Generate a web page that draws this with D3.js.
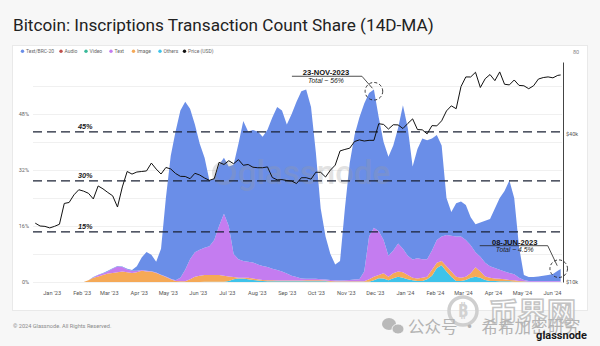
<!DOCTYPE html>
<html><head><meta charset="utf-8">
<script src="https://cdn.jsdelivr.net/npm/d3@7"></script>
<style>
html,body{margin:0;padding:0;background:#f7f7f7;}
svg{display:block;}
</style></head><body>
<svg id="c" width="600" height="346"></svg>
<script>
// ---------------- DATA ----------------
const dates = [
"2022-12-15","2022-12-20","2022-12-25","2022-12-30","2023-01-04","2023-01-09","2023-01-14","2023-01-19","2023-01-24","2023-01-29",
"2023-02-03","2023-02-08","2023-02-13","2023-02-18","2023-02-23","2023-02-28","2023-03-05","2023-03-10","2023-03-15","2023-03-20",
"2023-03-25","2023-03-30","2023-04-04","2023-04-09","2023-04-14","2023-04-19","2023-04-24","2023-04-29","2023-05-04","2023-05-09",
"2023-05-14","2023-05-19","2023-05-24","2023-05-29","2023-06-03","2023-06-08","2023-06-13","2023-06-18","2023-06-23","2023-06-28",
"2023-07-03","2023-07-08","2023-07-13","2023-07-18","2023-07-23","2023-07-28","2023-08-02","2023-08-07","2023-08-12","2023-08-17",
"2023-08-22","2023-08-27","2023-09-01","2023-09-06","2023-09-11","2023-09-16","2023-09-21","2023-09-26","2023-10-01","2023-10-06",
"2023-10-11","2023-10-16","2023-10-21","2023-10-26","2023-10-31","2023-11-05","2023-11-10","2023-11-15","2023-11-20","2023-11-25",
"2023-11-30","2023-12-05","2023-12-10","2023-12-15","2023-12-20","2023-12-25","2023-12-30","2024-01-04","2024-01-09","2024-01-14",
"2024-01-19","2024-01-24","2024-01-29","2024-02-03","2024-02-08","2024-02-13","2024-02-18","2024-02-23","2024-02-28","2024-03-04",
"2024-03-09","2024-03-14","2024-03-19","2024-03-24","2024-03-29","2024-04-03","2024-04-08","2024-04-13","2024-04-18","2024-04-23",
"2024-04-28","2024-05-03","2024-05-08","2024-05-13","2024-05-18","2024-05-23","2024-05-28","2024-06-02","2024-06-07","2024-06-10"];

// share of transaction count, % (14D-MA)
const brc20 = [
0,0,0,0,0,0,0,0,0,0,
0,0,0.1,0.1,0.2,0.2,0.1,0.2,0.1,0.2,
0.2,1.3,3.6,5.4,4.7,3.1,7.4,22.4,35.1,42.5,
47.8,48.0,43.0,36.5,30.3,25.7,18.8,17.5,17.5,16.0,
17.0,25.5,33.0,40.0,37.2,37.8,38.0,36.9,39.2,43.2,
46.6,46.0,42.6,46.2,50.1,53.5,54.1,49.1,36.1,20.2,
12.3,7.4,4.5,5.6,20.5,33.4,41.3,46.2,48.0,41.0,
39.5,32.5,28.0,28.3,30.0,33.0,41.0,36.5,26.6,31.2,
34.5,34.0,32.0,30.0,26.0,10.6,6.8,9.5,10.0,10.0,
8.0,8.0,9.8,12.0,13.5,17.0,20.5,23.0,26.4,21.8,
8.8,1.4,1.1,1.1,1.3,1.5,1.7,2.0,2.9,3.4];
const audio = [
0,0,0,0,0,0,0,0,0,0, 0,0,0,0,0,0,0,0,0,0, 0,0,0,0,0,0,0,0,0,0, 0,0,0,0,0,0,0,0,0,0,
0,0,0,0,0,0,0,0,0,0, 0,0,0,0,0,0,0,0,0,0, 0,0,0,0,0,0,0,0,0,0, 0,0,0,0,0,0,0,0,0,0,
0,0,0,0,0,0,0,0,0,0, 0,0,0,0,0,0,0,0,0,0, 0,0,0,0,0,0,0,0,0,0];
const video = [
0,0,0,0,0,0,0,0,0,0, 0,0,0,0,0,0,0,0,0,0, 0,0,0,0,0,0,0,0,0,0, 0,0,0,0,0,0,0,0,0,0,
0,0,0,0,0,0,0,0,0,0, 0,0,0,0,0,0,0,0,0,0, 0,0,0,0,0,0,0,0,0,0, 0,0,0,0,0,0,0,0,0,0,
0,0,0,0,0,0,0,0,0,0, 0,0,0,0,0,0,0,0,0,0, 0,0,0,0,0,0,0,0,0,0];
const text = [
0,0,0,0,0,0,0,0,0,0,
0,0,0.1,0.4,0.4,0.6,1.2,1.6,1.3,0.8,
0.6,0.4,0.2,0.2,0.1,0.1,0.1,0.2,0.1,0.2,
1.0,3.3,5.7,7.0,7.4,7.8,8.2,10.0,14.0,17.7,
14.4,6.6,5.3,4.8,4.6,4.6,4.2,4.0,3.8,3.3,
3.0,2.6,2.0,1.4,1.0,0.6,0.4,0.4,0.4,0.3,
0.3,0.3,0.3,0.2,0.3,0.4,0.5,0.6,2.8,12.2,
14.0,12.5,9.5,6.0,6.5,8.0,6.7,5.5,5.2,5.8,
5.3,5.0,5.5,6.5,7.0,8.9,10.2,11.5,11.8,10.5,
8.0,4.3,4.2,3.9,3.3,3.0,2.6,2.2,2.0,1.7,
0.9,0.4,0.2,0.2,0.2,0.2,0.2,0.2,0.2,0.2];
const image = [
0,0,0,0,0,0,0,0,0,0,
0,0.5,1.2,1.6,2.0,2.4,2.6,2.8,3.0,2.8,
2.6,2.8,3.2,3.0,3.0,2.6,2.0,1.4,0.8,0.3,
0.2,0.2,0.8,1.5,1.8,1.9,1.9,1.9,1.9,1.7,
1.3,0.6,0.2,0.2,0.4,0.4,0.4,0.3,0.3,0.3,
0.2,0.2,0.2,0.2,0.2,0.2,0.3,0.3,0.3,0.3,
0.2,0.2,0.1,0.1,0.1,0.1,0.1,0.1,0.1,0.7,
1.0,0.9,1.5,1.0,1.4,1.5,1.6,1.2,0.7,0.7,
0.9,0.7,1.7,1.5,1.2,1.5,1.5,1.2,0.9,0.9,
1.3,2.7,1.8,1.0,0.9,0.7,0.7,0.6,0.4,0.4,
0.2,0.15,0.05,0.05,0.05,0.05,0.05,0.05,0.05,0.05];
const others = [
0,0,0,0,0,0,0,0,0,0,
0,0,0,0,0,0,0,0,0,0,
0,0,0,0,0,0,0,0,0,0,
0,0,0,0,0,0.1,0.1,0.1,0.1,0.1,
0.3,0.8,1.0,1.0,0.8,0.6,0.4,0.3,0.2,0.2,
0.2,0.2,0.2,0.2,0.2,0.2,0.2,0.2,0.2,0.2,
0.2,0.1,0.1,0.1,0.1,0.1,0.1,0.1,0.1,0.1,
0.5,1.1,1.0,0.5,1.1,1.5,1.2,0.8,0.5,0.3,
0.3,0.8,1.8,4.0,4.8,3.0,1.5,0.3,0.3,0.6,
1.2,1.5,1.2,0.6,0.3,0.3,0.2,0.2,0.2,0.1,
0.1,0.05,0.05,0.05,0.05,0.05,0.05,0.05,0.05,0.05];
// BTC price, USD
const price = [
17360,16900,16840,16600,16850,17180,20880,21070,22630,23740,
23430,22960,21780,24600,23940,23140,22430,20190,24370,28170,
27490,28030,28170,28320,30480,28820,27510,29250,28850,27660,
26920,26880,26330,27700,27250,26500,25930,26340,30690,30080,
31160,30290,31480,29860,30080,29320,29180,29180,29410,26630,
26050,26100,25870,25760,25160,26570,26580,26220,27980,27950,
26750,28520,29900,34160,34640,35050,37310,37880,37480,37720,
37720,44080,43780,41930,43660,43580,42140,44180,46120,41730,
41620,40080,43300,43190,45300,49700,52120,50730,62440,68330,
68310,71400,61900,67210,69890,66000,71630,63800,63430,66400,
63120,62900,61190,62900,67000,67930,68360,67760,69350,69600];

const xTickDates = ["2023-01-01","2023-02-01","2023-03-01","2023-04-01","2023-05-01","2023-06-01","2023-07-01","2023-08-01","2023-09-01",
"2023-10-01","2023-11-01","2023-12-01","2024-01-01","2024-02-01","2024-03-01","2024-04-01","2024-05-01","2024-06-01"];
const yTicks = [0,16,32,48];
const yGrid = [0,8,16,24,32,40,48,56];
const priceTicks = [10000,40000];
const refLabels = ["15%","30%","45%"];
const refValues = [14.3,28.9,42.9];
const annDates = ["2023-11-30","2024-06-08"];
const annValues = [54.5,3.8];
const annTitles = ["23-NOV-2023","08-JUN-2023"];
const annTotals = ["Total ~ 56%","Total ~ 4.5%"];
const legendNames = ["Text/BRC-20","Audio","Video","Text","Image","Others","Price (USD)"];
const legendColors = ["#6a8ee8","#c0504d","#39b99a","#c47cf0","#f5a957","#3ec3ea","#111111"];

// ---------------- CHART ----------------
const W=600,H=346;
const svg=d3.select('#c');
const FONT='Roboto, "Noto Sans", "DejaVu Sans", sans-serif';
svg.append('rect').attr('width',W).attr('height',H).attr('fill','#f7f7f7');
svg.append('rect').attr('x',12.5).attr('y',45.5).attr('width',575).attr('height',265)
  .attr('fill','#fff').attr('stroke','#e9e9e9');

const title=svg.append('text').attr('x',13).attr('y',31).attr('font-family',FONT)
  .attr('font-size',17).attr('fill','#222').text('Bitcoin: Inscriptions Transaction Count Share (14D-MA)');
const tw=title.node().getComputedTextLength();
if(tw>0) title.attr('font-size',17*421/tw);

const parse=d3.utcParse('%Y-%m-%d');
const x=d3.scaleUtc().domain([parse('2022-12-15'),parse('2024-06-12')]).range([35.25,562.6]);
const y=d3.scaleLinear().domain([0,62.86]).range([282,62]);
const yp=d3.scaleLog().domain([10000,78600]).range([282,62]);

// grid
svg.append('g').selectAll('line').data(yGrid).join('line')
  .attr('x1',33).attr('x2',562).attr('y1',d=>y(d)+0.5).attr('y2',d=>y(d)+0.5)
  .attr('stroke','#f0f0f0').attr('stroke-width',1);

// left labels
svg.append('g').selectAll('text').data(yTicks).join('text')
  .attr('x',29).attr('y',d=>y(d)).attr('dy','0.35em').attr('text-anchor','end')
  .attr('font-family',FONT).attr('font-size',5.5).attr('fill','#666').text(d=>d+'%');

// stacked areas
const keys=['Others','Video','Audio','Image','Text','Text/BRC-20'];
const colors={'Others':'#3ec3ea','Video':'#39b99a','Audio':'#c0504d','Image':'#f5a957','Text':'#c47cf0','Text/BRC-20':'#6a8ee8'};
const table=dates.map((d,i)=>({date:parse(d),'Others':others[i],'Video':video[i],'Audio':audio[i],'Image':image[i],'Text':text[i],'Text/BRC-20':brc20[i]}));
const stacked=d3.stack().keys(keys)(table);
const area=d3.area().x(d=>x(d.data.date)).y0(d=>y(d[0])).y1(d=>y(d[1]));
svg.append('g').selectAll('path').data(stacked).join('path')
  .attr('d',area).attr('fill',d=>colors[d.key]);

// watermark
const wm=svg.append('g').attr('opacity',0.28);
wm.append('circle').attr('cx',224).attr('cy',173).attr('r',10).attr('fill','none').attr('stroke','#9a9a9a').attr('stroke-width',4);
wm.append('text').attr('x',238).attr('y',184).attr('font-family',FONT).attr('font-weight',500)
  .attr('font-size',33).attr('fill','#9a9a9a').text('glassnode');

// reference dashed lines
svg.append('g').selectAll('line').data(refValues).join('line')
  .attr('x1',33).attr('x2',562).attr('y1',d=>y(d)).attr('y2',d=>y(d))
  .attr('stroke','#1b2235').attr('stroke-width',1.3).attr('stroke-dasharray','9,5');
svg.append('g').selectAll('text').data(refValues).join('text')
  .attr('x',78).attr('y',d=>y(d)-3.2).attr('font-family','"Liberation Sans", Arial, sans-serif')
  .attr('font-weight','bold').attr('font-style','italic').attr('font-size',7.3).attr('fill','#222')
  .text((d,i)=>refLabels[i]);

// price line
const line=d3.line().x((d,i)=>x(parse(dates[i]))).y(d=>yp(d));
svg.append('path').datum(price).attr('d',line).attr('fill','none')
  .attr('stroke','#111').attr('stroke-width',1).attr('stroke-linejoin','round');

// right axis
const ra=svg.append('g').attr('transform','translate(563,0)')
  .call(d3.axisRight(yp).tickValues(priceTicks).tickFormat(d=>'$'+(d/1000)+'k').tickSize(0).tickPadding(3));
ra.select('.domain').attr('stroke','#444').attr('stroke-width',1);
ra.selectAll('text').attr('font-family',FONT).attr('font-size',5.5).attr('fill','#555');
svg.append('text').attr('x',573).attr('y',54).attr('font-family',FONT).attr('font-size',5.5).attr('fill','#888').text('80');

// x axis
const xa=svg.append('g').attr('transform','translate(0,288)')
  .call(d3.axisBottom(x).tickValues(xTickDates.map(parse)).tickFormat(d3.utcFormat("%b '%y")).tickSize(0).tickPadding(3));
xa.select('.domain').remove();
xa.selectAll('text').attr('font-family',FONT).attr('font-size',5.6).attr('fill','#555');

// legend
const lg=svg.append('g');
const lx=[22.5,61,86,111,133.5,160,184.5];
legendNames.forEach((n,i)=>{
  lg.append('circle').attr('cx',lx[i]).attr('cy',51.3).attr('r',1.7).attr('fill',legendColors[i]);
  lg.append('text').attr('x',lx[i]+3.5).attr('y',51.3).attr('dy','0.35em').attr('font-family',FONT)
    .attr('font-size',5).attr('fill','#666').text(n);
});

// annotations
const annCfg=[{tx:-48,ty:-16,lx0:-82,lx1:-12},{tx:-44,ty:-24,lx0:-79,lx1:-11}];
annDates.forEach((dd,i)=>{
  const ax=x(parse(dd)), ay=y(annValues[i]);
  const c=annCfg[i];
  const g=svg.append('g');
  g.append('circle').attr('cx',ax).attr('cy',ay).attr('r',8.8).attr('fill','none')
    .attr('stroke','#222').attr('stroke-width',0.9).attr('stroke-dasharray','3,2.2');
  g.append('polyline').attr('points',[[ax+c.lx0,ay+c.ty+1],[ax+c.lx1,ay+c.ty+1],[ax-1.5,ay-3]].map(p=>p.join(',')).join(' '))
    .attr('fill','none').attr('stroke','#222').attr('stroke-width',0.8);
  g.append('text').attr('x',ax+c.tx).attr('y',ay+c.ty).attr('text-anchor','middle')
    .attr('font-family','"Liberation Sans", Arial, sans-serif').attr('font-weight','bold')
    .attr('font-size',7.6).attr('fill','#111').text(annTitles[i]);
  g.append('text').attr('x',ax+c.tx).attr('y',ay+c.ty+7.5).attr('text-anchor','middle')
    .attr('font-family','"Liberation Sans", Arial, sans-serif').attr('font-style','italic')
    .attr('font-size',6.8).attr('fill','#222').text(annTotals[i]);
});

// footer
svg.append('text').attr('x',13).attr('y',328).attr('font-family',FONT).attr('font-size',5.6)
  .attr('fill','#8a8a8a').text('© 2024 Glassnode. All Rights Reserved.');

// repost watermarks
const rw=svg.append('g');
rw.append('circle').attr('cx',463).attr('cy',311).attr('r',14).attr('fill','none').attr('stroke','#cfcfcf').attr('stroke-width',3.5);
rw.append('text').attr('x',463).attr('y',317).attr('text-anchor','middle').attr('font-family',FONT).attr('font-weight','bold')
  .attr('font-size',18).attr('fill','#d2d2d2').text('₿');
rw.append('text').attr('x',489).attr('y',324).attr('font-family','"Noto Sans CJK SC", sans-serif').attr('font-weight','bold')
  .attr('font-size',29).attr('fill','#fff').attr('fill-opacity',0.6).attr('stroke','#c4c4c4').attr('stroke-width',1.5).text('币界网');
rw.append('ellipse').attr('cx',389).attr('cy',324).attr('rx',7).attr('ry',6).attr('fill','#b9b9b9');
rw.append('ellipse').attr('cx',398).attr('cy',329).attr('rx',6).attr('ry',5).attr('fill','#b9b9b9').attr('stroke','#fff').attr('stroke-width',0.8);
rw.append('text').attr('x',408).attr('y',333).attr('font-family','"Noto Sans CJK SC", sans-serif')
  .attr('font-size',16.5).attr('fill','#b3b3b3').text('公众号 · 希希加密研究');

// glassnode logo
svg.append('text').attr('x',587).attr('y',339).attr('text-anchor','end').attr('font-family',FONT)
  .attr('font-weight','bold').attr('font-size',11).attr('fill','#1a1a1a').text('glassnode');
</script>
</body></html>
